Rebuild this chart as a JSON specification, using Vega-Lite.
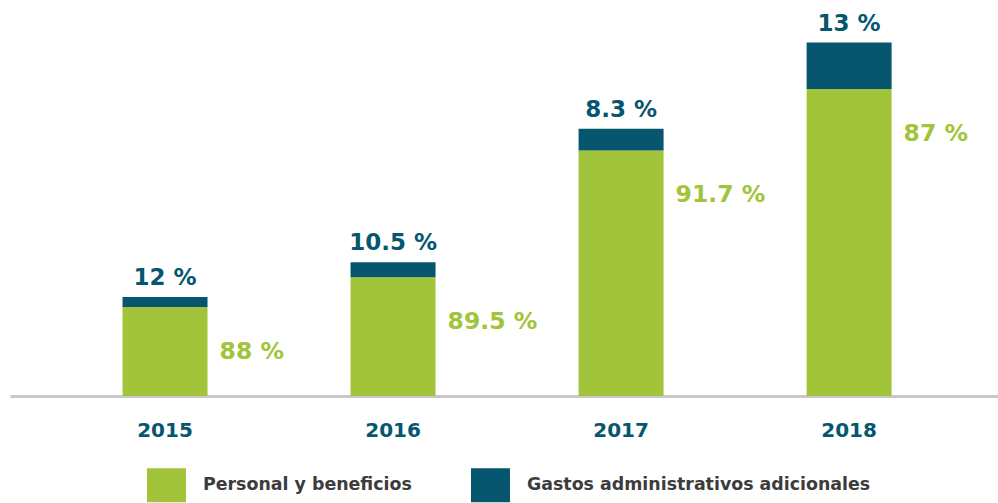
{
  "$schema": "https://vega.github.io/schema/vega-lite/v6.json",
  "width": 988,
  "height": 396,
  "padding": {"left": 10, "top": 0, "right": 0, "bottom": 107},
  "autosize": {"type": "none"},
  "background": "#ffffff",
  "config": {"view": {"stroke": null}},
  "data": {
    "values": [
      {"anio": "2015", "categoria": "Personal y beneficios", "orden": 1, "valor": 90, "etiqueta": "88 %"},
      {"anio": "2015", "categoria": "Gastos administrativos adicionales", "orden": 2, "valor": 10, "etiqueta": "12 %"},
      {"anio": "2016", "categoria": "Personal y beneficios", "orden": 1, "valor": 120, "etiqueta": "89.5 %"},
      {"anio": "2016", "categoria": "Gastos administrativos adicionales", "orden": 2, "valor": 15, "etiqueta": "10.5 %"},
      {"anio": "2017", "categoria": "Personal y beneficios", "orden": 1, "valor": 248, "etiqueta": "91.7 %"},
      {"anio": "2017", "categoria": "Gastos administrativos adicionales", "orden": 2, "valor": 22, "etiqueta": "8.3 %"},
      {"anio": "2018", "categoria": "Personal y beneficios", "orden": 1, "valor": 310, "etiqueta": "87 %"},
      {"anio": "2018", "categoria": "Gastos administrativos adicionales", "orden": 2, "valor": 47, "etiqueta": "13 %"}
    ]
  },
  "transform": [
    {"stack": "valor", "groupby": ["anio"], "sort": [{"field": "orden", "order": "ascending"}], "as": ["v0", "v1"]}
  ],
  "layer": [
    {
      "mark": {"type": "bar"},
      "encoding": {
        "x": {
          "field": "anio",
          "type": "ordinal",
          "scale": {"paddingInner": 0.6272, "paddingOuter": 0.48, "align": 0.514},
          "axis": {
            "title": null,
            "domainColor": "#c8c8c8",
            "domainWidth": 3,
            "ticks": false,
            "tickSize": 0,
            "labelFont": "DejaVu Sans",
            "labelFontWeight": "bold",
            "labelFontSize": 20,
            "labelColor": "#05566e",
            "labelPadding": 40,
            "labelBaseline": "alphabetic",
            "labelAngle": 0,
            "grid": false
          }
        },
        "y": {"field": "v1", "type": "quantitative", "scale": {"domain": [0, 396]}, "axis": null},
        "y2": {"field": "v0"},
        "color": {
          "field": "categoria",
          "type": "nominal",
          "scale": {
            "domain": ["Personal y beneficios", "Gastos administrativos adicionales"],
            "range": ["#a2c43a", "#05566e"]
          },
          "legend": {
            "orient": "none",
            "legendX": 137,
            "legendY": 465.5,
            "direction": "horizontal",
            "title": null,
            "symbolType": "M-1,-0.872H1V0.872H-1Z",
            "symbolSize": 1521,
            "symbolStrokeWidth": 0,
            "symbolOpacity": 1,
            "labelFont": "DejaVu Sans",
            "labelFontWeight": "bold",
            "labelFontSize": 17.4,
            "labelColor": "#3c3c3c",
            "labelOffset": 17,
            "columnPadding": 59,
            "labelLimit": 500,
            "padding": 0
          }
        }
      }
    },
    {
      "transform": [{"filter": "datum.orden == 1"}],
      "mark": {
        "type": "text",
        "align": "left",
        "baseline": "middle",
        "dx": 12,
        "dy": 45,
        "font": "DejaVu Sans",
        "fontWeight": "bold",
        "fontSize": 23.5,
        "color": "#a2c43a"
      },
      "encoding": {
        "x": {"field": "anio", "type": "ordinal", "bandPosition": 1},
        "y": {"field": "v1", "type": "quantitative"},
        "text": {"field": "etiqueta"}
      }
    },
    {
      "transform": [{"filter": "datum.orden == 2"}],
      "mark": {
        "type": "text",
        "align": "center",
        "baseline": "alphabetic",
        "dy": -12,
        "font": "DejaVu Sans",
        "fontWeight": "bold",
        "fontSize": 23,
        "color": "#05566e"
      },
      "encoding": {
        "x": {"field": "anio", "type": "ordinal"},
        "y": {"field": "v1", "type": "quantitative"},
        "text": {"field": "etiqueta"}
      }
    }
  ]
}
